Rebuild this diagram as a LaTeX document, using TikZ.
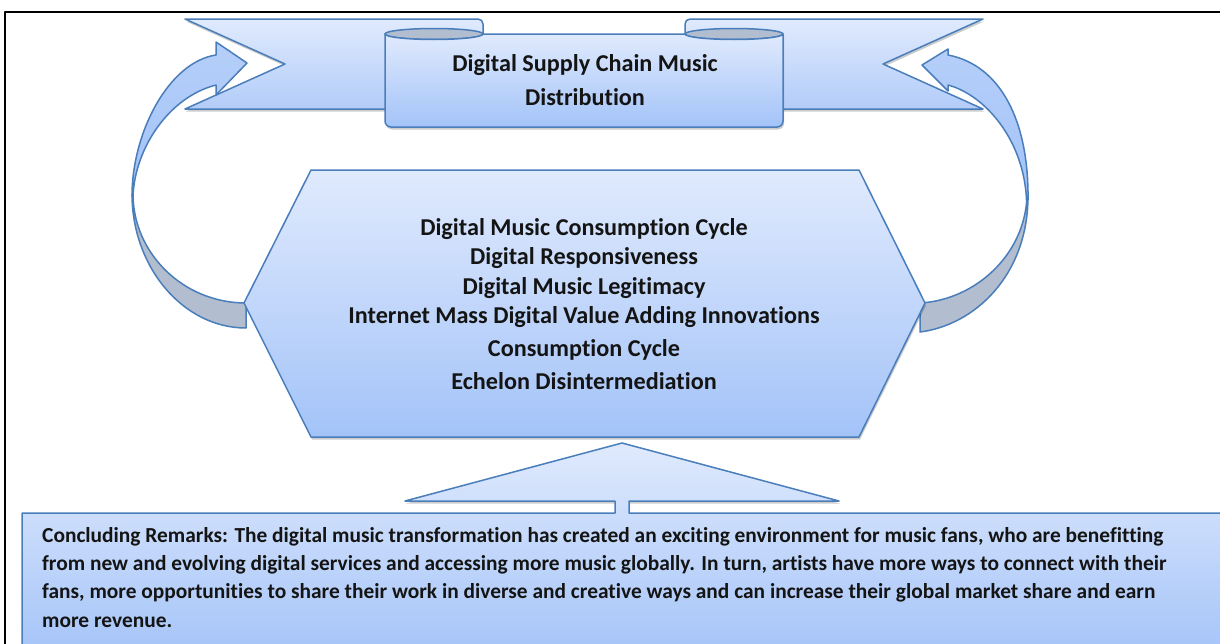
\documentclass[tikz,border=0pt]{standalone}
\usepackage{fontspec}
\setmainfont{Carlito}[Ligatures=NoCommon]
\usetikzlibrary{shadows}
\definecolor{lineblue}{RGB}{74,126,187}
\definecolor{filltop}{RGB}{224,234,253}
\definecolor{fillbot}{RGB}{163,195,248}
\definecolor{tailbot}{RGB}{178,204,249}
\definecolor{rollgray}{RGB}{178,189,207}
\definecolor{txt}{RGB}{20,20,20}
\begin{document}
\begin{tikzpicture}[x=1pt,y=-1pt,line join=round,
  outl/.style={draw=lineblue,line width=1.5pt},
  shd/.style={drop shadow={shadow xshift=1pt,shadow yshift=-2.5pt,opacity=0.2,fill=black}},
  bluegrad/.style={outl,top color=filltop,bottom color=fillbot},
  tailgrad/.style={outl,top color=filltop,bottom color=tailbot},
  arrowfront/.style={outl,top color=fillbot!70!filltop,bottom color=fillbot},
  arrowback/.style={outl,fill=rollgray},
  head/.style={font=\fontsize{24.2}{29}\selectfont\bfseries,text=txt,inner sep=0pt,anchor=base},
  body/.style={font=\fontsize{21.4}{26}\selectfont\bfseries,text=txt,inner sep=0pt,anchor=base west}]
\useasboundingbox (0,0) rectangle (1220,643);
\clip (0,0) rectangle (1220,643);
% outer frame
\draw[line width=2pt] (5,12) rectangle (1260,700);

% ---------- ribbon banner ----------
\path[tailgrad,shd] (185,19) -- (478,19) arc[start angle=-90,end angle=0,radius=5]
   -- (483,109) -- (185,109) -- (285,64) -- cycle;
\path[tailgrad,shd] (983,19) -- (690,19) arc[start angle=-90,end angle=-180,radius=5]
   -- (685,109) -- (983,109) -- (883,64) -- cycle;
\path[outl,fill=rollgray] (434,34) ellipse[x radius=49,y radius=5.5];
\path[outl,fill=rollgray] (734,34) ellipse[x radius=49,y radius=5.5];
\path[bluegrad,shd] (385,34) arc[start angle=180,end angle=0,x radius=49,y radius=5.5]
   -- (685,34) arc[start angle=180,end angle=0,x radius=49,y radius=5.5]
   -- (783,121) arc[start angle=0,end angle=90,radius=6]
   -- (391,127) arc[start angle=90,end angle=180,radius=6] -- cycle;
\node[head] (b1) at (585,71) {Digital Supply Chain Music};
\node[head] (b2) at (585,105) {Distribution};

% ---------- curved arrows ----------
% left arrow
\begin{scope}[shift={(244,192)}]
  \path[arrowback] (-112,2) .. controls (-112,75) and (-61,136) .. (2,136)
     -- (2,111) .. controls (-61,111) and (-111,61) .. (-111,2) -- cycle;
  \path[arrowfront] (-112,4) .. controls (-112,-60) and (-75,-130) .. (-28,-137)
     -- (-28,-150) -- (3,-129) -- (-28,-97) -- (-28,-107)
     .. controls (-75,-95) and (-109,-44) .. (-111,4) -- cycle;
\end{scope}
% right arrow
\path[arrowback] (1028,196) .. controls (1028,275) and (975,325) .. (920,332)
   -- (920,303) .. controls (975,300) and (1025,255) .. (1027,196) -- cycle;
\path[arrowfront] (1028,200) .. controls (1029,120) and (1000,65) .. (948,55)
   -- (948,49) -- (922,65) -- (948,91) -- (948,85)
   .. controls (985,95) and (1024,140) .. (1026.5,200) -- cycle;

% ---------- hexagon ----------
\path[bluegrad,shd] (311,170) -- (859,170) -- (925,303) -- (859,437)
   -- (311,437) -- (244,303) -- cycle;
\node[head] (h1) at (584,235) {Digital Music Consumption Cycle};
\node[head] (h2) at (584,264) {Digital Responsiveness};
\node[head] (h3) at (584,294) {Digital Music Legitimacy};
\node[head] (h4) at (584,323) {Internet Mass Digital Value Adding Innovations};
\node[head] (h5) at (584,356) {Consumption Cycle};
\node[head] (h6) at (584,389) {Echelon Disintermediation};

% ---------- callout ----------
\path[outl,top color=filltop,bottom color=fillbot,shd] (22,513) -- (615,513) -- (615,501) -- (405,501)
   -- (622,443) -- (839,501) -- (629,501) -- (629,513) -- (1250,513)
   -- (1250,660) -- (22,660) -- cycle;
\node[body] (c1) at (42,542) {Concluding Remarks: The digital music transformation has created an exciting environment for music fans, who are benefitting};
\node[body] (c2) at (42,570) {from new and evolving digital services and accessing more music globally. In turn, artists have more ways to connect with their};
\node[body] (c3) at (42,598) {fans, more opportunities to share their work in diverse and creative ways and can increase their global market share and earn};
\node[body] (c4) at (42,627) {more revenue.};
\end{tikzpicture}
\end{document}
